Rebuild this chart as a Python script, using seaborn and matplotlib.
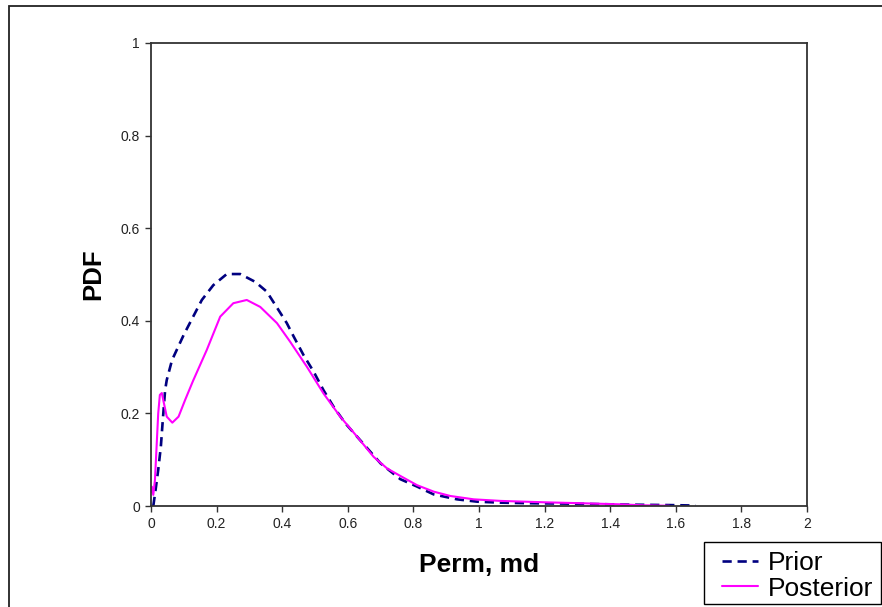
import matplotlib
matplotlib.use("Agg")
import matplotlib.pyplot as plt
from matplotlib.patches import Rectangle
import numpy as np
import pandas as pd
import seaborn as sns

# Prior and posterior permeability densities
prior_x = [0.007, 0.014, 0.022, 0.030, 0.036, 0.043, 0.048, 0.064, 0.10, 0.155,
           0.19, 0.231, 0.272, 0.318, 0.353, 0.389, 0.414, 0.435, 0.465, 0.496,
           0.526, 0.557, 0.592, 0.628, 0.659, 0.70, 0.76, 0.811, 0.862, 0.933,
           0.995, 1.066, 1.17, 1.29, 1.45, 1.58, 1.66]
prior_y = [0.0, 0.035, 0.078, 0.128, 0.186, 0.25, 0.272, 0.315, 0.37, 0.445,
           0.477, 0.501, 0.501, 0.484, 0.463, 0.423, 0.395, 0.366, 0.326, 0.29,
           0.25, 0.214, 0.179, 0.15, 0.125, 0.092, 0.058, 0.042, 0.025, 0.0144,
           0.0093, 0.0072, 0.0058, 0.005, 0.003, 0.002, 0.001]

post_x = [0.0, 0.002, 0.007, 0.012, 0.017, 0.022, 0.027, 0.033, 0.040, 0.048,
          0.065, 0.084, 0.104, 0.128, 0.17, 0.211, 0.251, 0.292, 0.333, 0.384,
          0.424, 0.475, 0.526, 0.577, 0.628, 0.679, 0.72, 0.76, 0.811, 0.862,
          0.913, 0.984, 1.066, 1.2, 1.32, 1.43, 1.5, 1.58]
post_y = [0.03, 0.042, 0.024, 0.056, 0.128, 0.2, 0.24, 0.244, 0.22, 0.193,
          0.18, 0.193, 0.229, 0.27, 0.337, 0.409, 0.438, 0.445, 0.43, 0.395,
          0.355, 0.301, 0.243, 0.193, 0.15, 0.106, 0.081, 0.065, 0.045, 0.031,
          0.0216, 0.0144, 0.011, 0.008, 0.0058, 0.0036, 0.0015, 0.0005]

x_ticks = [0, 0.2, 0.4, 0.6, 0.8, 1, 1.2, 1.4, 1.6, 1.8, 2]
x_tick_labels = ["0", "0.2", "0.4", "0.6", "0.8", "1", "1.2", "1.4", "1.6", "1.8", "2"]
y_ticks = [0, 0.2, 0.4, 0.6, 0.8, 1]
y_tick_labels = ["0", "0.2", "0.4", "0.6", "0.8", "1"]

sns.set_style("ticks")
plt.rcParams["font.family"] = ["Liberation Sans", "DejaVu Sans"]

prior_df = pd.DataFrame({"perm": prior_x, "pdf": prior_y})
post_df = pd.DataFrame({"perm": post_x, "pdf": post_y})

W, H = 882, 607
fig = plt.figure(figsize=(W / 100, H / 100), dpi=100)
ax = fig.add_axes([151 / W, 1 - 506 / H, (807 - 151) / W, (506 - 43) / H])

sns.lineplot(data=prior_df, x="perm", y="pdf", ax=ax, sort=False,
             color="#000080", linewidth=1.9, label="Prior")
ax.lines[-1].set_dashes((4, 2.5))
sns.lineplot(data=post_df, x="perm", y="pdf", ax=ax, sort=False,
             color="#FF00FF", linewidth=1.5, label="Posterior")

ax.set_xlim(0, 2)
ax.set_ylim(0, 1)
ax.set_xticks(x_ticks)
ax.set_xticklabels(x_tick_labels)
ax.set_yticks(y_ticks)
ax.set_yticklabels(y_tick_labels)
ax.tick_params(axis="both", direction="out", length=4, width=1, colors="#333333",
               labelsize=10, labelcolor="#222222", pad=4)
for side in ["left", "bottom", "top", "right"]:
    ax.spines[side].set_visible(True)
    ax.spines[side].set_color("#333333")
    ax.spines[side].set_linewidth(1.3)

ax.set_xlabel("Perm, md", fontsize=19, fontweight="bold", labelpad=16, color="black")
ax.set_ylabel("PDF", fontsize=18.5, fontweight="bold", labelpad=11, color="black")

ax.legend_.remove()
handles, labels = ax.get_legend_handles_labels()
handles[0].set_dashes((3.5, 2.2))
leg = fig.legend(handles, labels, loc="center left",
                 bbox_to_anchor=(722 / W, 1 - 576 / H), bbox_transform=fig.transFigure,
                 fontsize=19, frameon=False, labelcolor="black",
                 handlelength=1.35, handletextpad=0.38, borderpad=0.0,
                 labelspacing=0.05, borderaxespad=0.0)

# Legend frame
fig.patches.append(Rectangle((704 / W, 1 - 604 / H), (881 - 704) / W, (604 - 542) / H,
                             transform=fig.transFigure, fill=False,
                             edgecolor="#000000", linewidth=1.0, zorder=5))

# Outer chart-area border (left and top edges visible)
fig.patches.append(Rectangle((9 / W, -0.2), 1.2, 1.2 - 6 / H,
                             transform=fig.transFigure, fill=False,
                             edgecolor="#222222", linewidth=1.3, zorder=0))

fig.savefig("out.png", dpi=100)
